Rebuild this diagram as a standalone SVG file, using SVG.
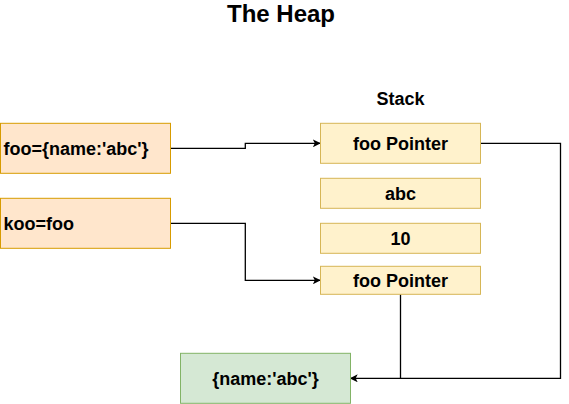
<svg xmlns="http://www.w3.org/2000/svg" width="569" height="404" viewBox="0 0 569 404">
<style>
text{font-family:"Liberation Sans",Arial,sans-serif;font-weight:bold;fill:#000}
.l{font-size:18px}
.c{text-anchor:middle}
.o{fill:#ffe6cc;stroke:#d79b00}
.y{fill:#fff2cc;stroke:#d6b656}
.g{fill:#d5e8d4;stroke:#82b366}
.e{fill:none;stroke:#000;stroke-width:1.3}
</style>
<defs>
<marker id="a" viewBox="0 0 10 10" refX="9" refY="5" markerWidth="8" markerHeight="8" markerUnits="userSpaceOnUse" orient="auto">
<path d="M0,0 L10,5 L0,10 L2.5,5 Z" fill="#000"/>
</marker>
</defs>
<text x="281" y="22" class="c" style="font-size:24px">The Heap</text>
<text x="400.5" y="105" class="c l">Stack</text>
<g id="connectors">
<path class="e" d="M170.5,148.3 H245.3 V143.3 H320" marker-end="url(#a)"/>
<path class="e" d="M170.5,223.3 H245.3 V280.3 H320" marker-end="url(#a)"/>
<path class="e" d="M480.5,143.3 H560.5 V378.3 H350.5" marker-end="url(#a)"/>
<path class="e" d="M400.5,294.3 V378.3"/>
</g>
<g id="foo"><rect class="o" x="0.5" y="123.3" width="170" height="50"/><text x="3.5" y="154.8" class="l">foo={name:'abc'}</text></g>
<g id="koo"><rect class="o" x="0.5" y="198.3" width="170" height="50"/><text x="3.5" y="229.8" class="l">koo=foo</text></g>
<g id="stack1"><rect class="y" x="320.5" y="123.3" width="160" height="40"/><text x="400.5" y="149.8" class="c l">foo Pointer</text></g>
<g id="stack2"><rect class="y" x="320.5" y="178.3" width="160" height="30"/><text x="400.5" y="199.8" class="c l">abc</text></g>
<g id="stack3"><rect class="y" x="320.5" y="223.3" width="160" height="30"/><text x="400.5" y="244.8" class="c l">10</text></g>
<g id="stack4"><rect class="y" x="320.5" y="266.3" width="160" height="28"/><text x="400.5" y="286.8" class="c l">foo Pointer</text></g>
<g id="heap"><rect class="g" x="180.5" y="353.3" width="170" height="50"/><text x="265.5" y="384.8" class="c l">{name:'abc'}</text></g>
</svg>
